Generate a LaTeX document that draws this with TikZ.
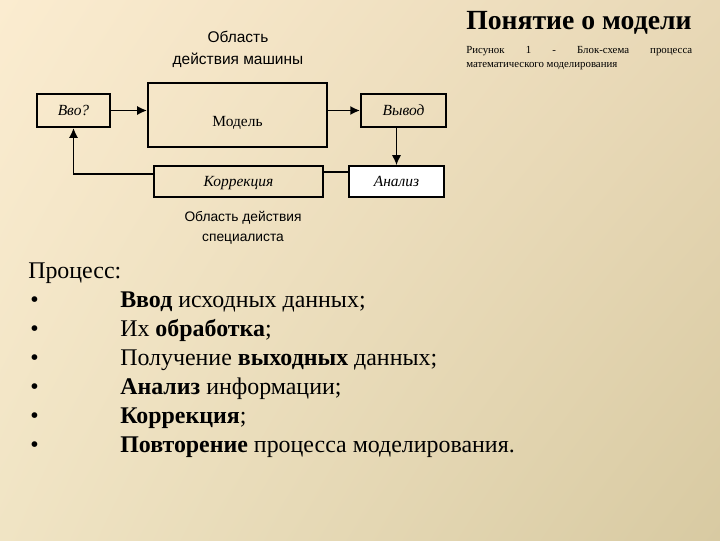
\documentclass[tikz,border=0pt]{standalone}
\usepackage{fontspec}
\setmainfont{Liberation Serif}
\newfontfamily\schemefont{Liberation Sans}
\usepackage{tikz}
\usetikzlibrary{positioning}
\usetikzlibrary{shapes,arrows,arrows.meta,calc,shadings}

\definecolor{fonUL}{RGB}{251,236,208}
\definecolor{fonUR}{RGB}{232,216,182}
\definecolor{fonLL}{RGB}{240,228,196}
\definecolor{fonLR}{RGB}{216,202,162}

\tikzset{
    blok/.style={draw, line width=1.3pt, inner sep=0pt, font=\fontsize{11}{13}\selectfont},
    strelka/.style={-{Latex[length=7pt,width=6.5pt]}, line width=1.4pt},
    punkt/.style={anchor=base west, font=\fontsize{17}{19}\selectfont, inner sep=0pt}
}

\begin{document}
\begin{tikzpicture}[x=0.025cm, y=-0.025cm]
    % background
    \shade[upper left=fonUL, upper right=fonUR, lower left=fonLL, lower right=fonLR]
        (0,0) rectangle (720,540);
    \useasboundingbox (0,0) rectangle (720,540);

    % title and caption
    \node[font=\fontsize{19.7}{22}\selectfont\bfseries, anchor=west, inner sep=0pt] (title) at (466,23) {Понятие о модели};
    \node[font=\fontsize{7.7}{10}\selectfont, text width=226*0.025cm, align=justify, anchor=north west, inner sep=0pt] (caption) at (466,46)
        {Рисунок 1 - Блок-схема процесса\linebreak математического моделирования};

    % boxes
    \node[blok, minimum width=73*0.025cm, minimum height=33*0.025cm] (vvod) at (73.5,110.5) {\itshape Вво?};
    \node[blok, minimum width=179*0.025cm, minimum height=64*0.025cm,
          label={[font=\fontsize{11}{13}\selectfont, yshift=-5.5pt]center:Модель}] (model) at (237.5,115) {};
    \node[blok, minimum width=85*0.025cm, minimum height=33*0.025cm] (vyvod) at (403.5,110.5) {\itshape Вывод};
    \node[blok, minimum width=169*0.025cm, minimum height=31*0.025cm, text depth=0pt] (korr) at (238.5,181.5) {\itshape Коррекция};
    \node[blok, fill=white, minimum width=95*0.025cm, minimum height=31*0.025cm] (analiz) at (396.5,181.5) {\itshape Анализ};

    % areas
    \node[font=\schemefont\fontsize{11}{15.5}\selectfont, align=center] (oblM) at (238,49) {Область\\действия машины};
    \node[font=\schemefont\fontsize{9.8}{14.5}\selectfont, align=center] (oblS) at (243,228) {Область действия\\специалиста};

    % connections
    \draw[strelka] (vvod.east) -- (vvod.east -| model.west);
    \draw[strelka] (model.east |- vyvod.west) -- (vyvod.west);
    \draw[strelka, line width=1pt] (analiz.north |- vyvod.south) -- (analiz.north);
    \draw[line width=1.4pt] ([yshift=6.7pt]analiz.west) -- ([yshift=6.7pt]korr.east);
    \draw[strelka] ([yshift=5.3pt]korr.west) -| (vvod.south);

    % process list
    \node[punkt] (process) at (28,278) {Процесс:};
    \foreach \y/\txt [count=\i] in {
        307/{\textbf{Ввод} исходных данных;},
        336/{Их \textbf{обработка};},
        365/{Получение \textbf{выходных} данных;},
        394/{\textbf{Анализ} информации;},
        423/{\textbf{Коррекция};},
        452/{\textbf{Повторение} процесса моделирования.}}
    {
        \node[punkt] (bul\i) at (30,\y) {•};
        \node[punkt] (item\i) at (120,\y) {\txt};
    }
\end{tikzpicture}
\end{document}
